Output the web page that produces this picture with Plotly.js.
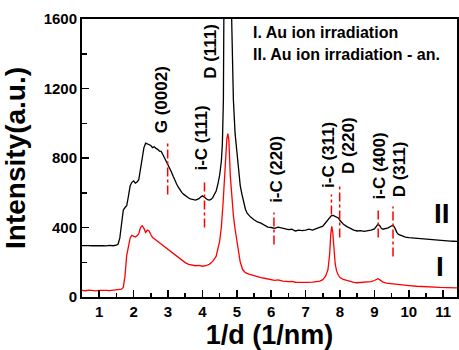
<!DOCTYPE html>
<html>
<head>
<meta charset="utf-8">
<script src="https://cdn.plot.ly/plotly-3.0.1.min.js"></script>
<style>html,body{margin:0;padding:0;background:#fff;}#chart{width:459px;height:350px;}</style>
</head>
<body>
<div id="chart"></div>
<script>
// Series I (Au ion irradiation) - red
var xI = [0.50,0.60,0.70,0.80,0.90,1.00,1.10,1.20,1.30,1.40,1.50,1.60,1.65,1.70,1.75,1.80,1.85,1.90,1.95,2.00,2.05,2.10,2.15,2.20,2.25,2.30,2.35,2.40,2.45,2.50,2.55,2.60,2.70,2.80,2.90,3.00,3.10,3.20,3.30,3.40,3.50,3.60,3.70,3.80,3.90,4.00,4.10,4.20,4.30,4.40,4.50,4.55,4.60,4.64,4.68,4.71,4.74,4.77,4.81,4.85,4.90,4.95,5.00,5.05,5.10,5.17,5.25,5.35,5.45,5.56,5.70,5.80,5.95,6.10,6.20,6.34,6.50,6.60,6.70,6.80,6.92,7.05,7.20,7.30,7.41,7.50,7.58,7.65,7.70,7.73,7.76,7.79,7.82,7.86,7.90,7.95,8.00,8.09,8.20,8.30,8.40,8.48,8.60,8.70,8.80,8.90,9.00,9.05,9.10,9.15,9.25,9.35,9.50,9.60,9.74,9.90,10.00,10.23,10.50,10.70,10.90,11.10,11.40];
var yI = [38,36,39,37,35,38,36,38,37,39,40,42,45,55,120,240,300,340,355,350,345,352,365,400,410,395,372,385,380,360,342,335,320,305,290,272,258,245,228,210,198,188,185,180,182,177,180,188,205,235,320,400,540,676,820,910,940,900,700,580,470,390,330,260,200,158,140,132,125,120,112,108,101,96,98,91,88,90,85,84,82,84,86,88,91,100,120,158,250,360,407,370,280,190,150,125,112,101,95,88,84,82,83,84,85,88,95,102,105,100,85,80,76,74,72,68,66,62,58,57,55,54,53];

// Series II (Au ion irradiation - annealed) - black
var xII = [0.50,0.60,0.70,0.80,0.90,1.00,1.10,1.20,1.30,1.40,1.50,1.55,1.60,1.65,1.70,1.75,1.80,1.85,1.90,1.95,2.00,2.05,2.10,2.15,2.20,2.25,2.30,2.35,2.40,2.45,2.50,2.55,2.60,2.65,2.70,2.75,2.80,2.85,2.90,2.95,3.00,3.05,3.10,3.15,3.20,3.25,3.30,3.35,3.40,3.45,3.50,3.55,3.60,3.65,3.70,3.75,3.80,3.85,3.90,3.95,4.00,4.05,4.10,4.15,4.20,4.25,4.30,4.35,4.40,4.45,4.50,4.55,4.58,4.61,4.64,4.67,4.70,4.72,4.745,4.77,4.80,4.83,4.85,4.90,4.95,5.00,5.05,5.10,5.15,5.20,5.25,5.30,5.35,5.40,5.50,5.60,5.70,5.80,5.90,6.00,6.10,6.20,6.30,6.40,6.50,6.60,6.70,6.80,6.90,7.00,7.10,7.20,7.30,7.40,7.50,7.55,7.60,7.65,7.70,7.75,7.80,7.85,7.90,7.95,8.00,8.05,8.10,8.20,8.30,8.40,8.50,8.60,8.70,8.80,8.90,9.00,9.05,9.10,9.15,9.20,9.25,9.30,9.40,9.50,9.55,9.60,9.65,9.70,9.80,9.90,10.00,10.10,10.20,10.30,10.40,10.50,10.60,10.70,10.80,10.90,11.00,11.10,11.20,11.30,11.40];
var yII = [296,294,296,295,297,295,296,294,297,295,298,305,340,420,500,515,525,580,640,660,668,655,662,675,730,800,860,885,880,875,872,860,865,855,850,840,838,820,800,785,765,745,720,695,670,650,632,615,602,592,583,575,570,565,562,560,558,562,566,575,582,576,565,560,558,562,572,590,610,650,700,780,880,1136,1600,2300,3500,4600,6000,4600,2900,1950,1600,1136,940,840,720,640,590,540,505,482,468,460,445,432,425,412,402,400,395,402,396,392,388,390,380,385,382,385,390,385,392,398,408,420,432,445,458,468,470,465,462,455,440,428,418,405,395,385,380,382,378,380,385,392,405,418,412,395,390,392,398,410,412,395,372,360,352,345,342,340,338,336,335,334,332,331,328,327,325,324,322,321,320];

// Peak assignments
var peakLabels = ['G (0002)','i-C (111)','D (111)','i-C (220)','i-C (311)','D (220)','i-C (400)','D (311)'];
var peakLabelX = [2.82,3.96,4.23,6.15,7.67,8.25,9.16,9.74];
var peakLabelY = [1137,912,1413,734,816,872,757,734];
var peakLineX  = [2.99,4.06,6.08,7.75,7.99,9.11,9.54];
var peakLineY0 = [590,400,302,475,342,342,233];
var peakLineY1 = [889,676,486,590,636,504,521];

var legendTexts = ['I. Au ion irradiation','II. Au ion irradiation - an.'];
var legendY = [1522,1395];
var seriesTags = ['I','II'];
var seriesTagX = [10.90,10.95];
var seriesTagY = [173,480];

var FONT = 'Liberation Sans, Arial, sans-serif';

var traces = [
  {x:xII, y:yII, type:'scatter', mode:'lines', line:{color:'#000000', width:1.3}, showlegend:false, name:'II'},
  {x:xI, y:yI, type:'scatter', mode:'lines', line:{color:'#ff0000', width:1.3}, showlegend:false, name:'I'}
];

var shapes = peakLineX.map(function(x,i){
  return {type:'line', xref:'x', yref:'y', x0:x, x1:x, y0:peakLineY0[i], y1:peakLineY1[i],
          line:{color:'#ff0000', width:1.5, dash:'dashdot'}};
});

var annotations = [];
peakLabels.forEach(function(t,i){
  annotations.push({x:peakLabelX[i], y:peakLabelY[i], xref:'x', yref:'y', text:t, showarrow:false,
    textangle:-90, xanchor:'center', yanchor:'middle',
    font:{family:FONT, size:17, color:'#000', weight:'bold'}});
});
legendTexts.forEach(function(t,i){
  annotations.push({x:5.42, y:legendY[i], xref:'x', yref:'y', text:t, showarrow:false,
    xanchor:'left', yanchor:'middle', font:{family:FONT, size:16, color:'#000', weight:'bold'}});
});
seriesTags.forEach(function(t,i){
  annotations.push({x:seriesTagX[i], y:seriesTagY[i], xref:'x', yref:'y', text:t, showarrow:false,
    xanchor:'center', yanchor:'middle', font:{family:FONT, size:28, color:'#000', weight:'bold'}});
});

var layout = {
  width:459, height:350,
  margin:{l:82, r:2, t:19, b:53, pad:0},
  paper_bgcolor:'#fff', plot_bgcolor:'#fff',
  showlegend:false,
  font:{family:FONT, color:'#000'},
  xaxis:{
    range:[0.5,11.4], tick0:0, dtick:1, ticks:'inside', ticklen:7, tickwidth:1.5, tickcolor:'#000',
    minor:{dtick:0.5, ticks:'inside', ticklen:4, tickwidth:1.5, tickcolor:'#000'},
    showline:true, linecolor:'#000', linewidth:2, mirror:true,
    showgrid:false, zeroline:false,
    tickfont:{family:FONT, size:15, color:'#000', weight:'bold'},
    title:{text:'1/d (1/nm)', font:{family:FONT, size:27, color:'#000', weight:'bold'}}
  },
  yaxis:{
    range:[0,1600], tick0:0, dtick:400, ticks:'inside', ticklen:7, tickwidth:1.5, tickcolor:'#000',
    minor:{dtick:200, ticks:'inside', ticklen:5, tickwidth:1.5, tickcolor:'#000'},
    showline:true, linecolor:'#000', linewidth:2, mirror:true,
    showgrid:false, zeroline:false,
    tickfont:{family:FONT, size:15, color:'#000', weight:'bold'},
    title:{text:'Intensity(a.u.)', font:{family:FONT, size:28, color:'#000', weight:'bold'}}
  },
  shapes:shapes,
  annotations:annotations
};

Plotly.newPlot('chart', traces, layout, {staticPlot:true, displayModeBar:false});
</script>
</body>
</html>
